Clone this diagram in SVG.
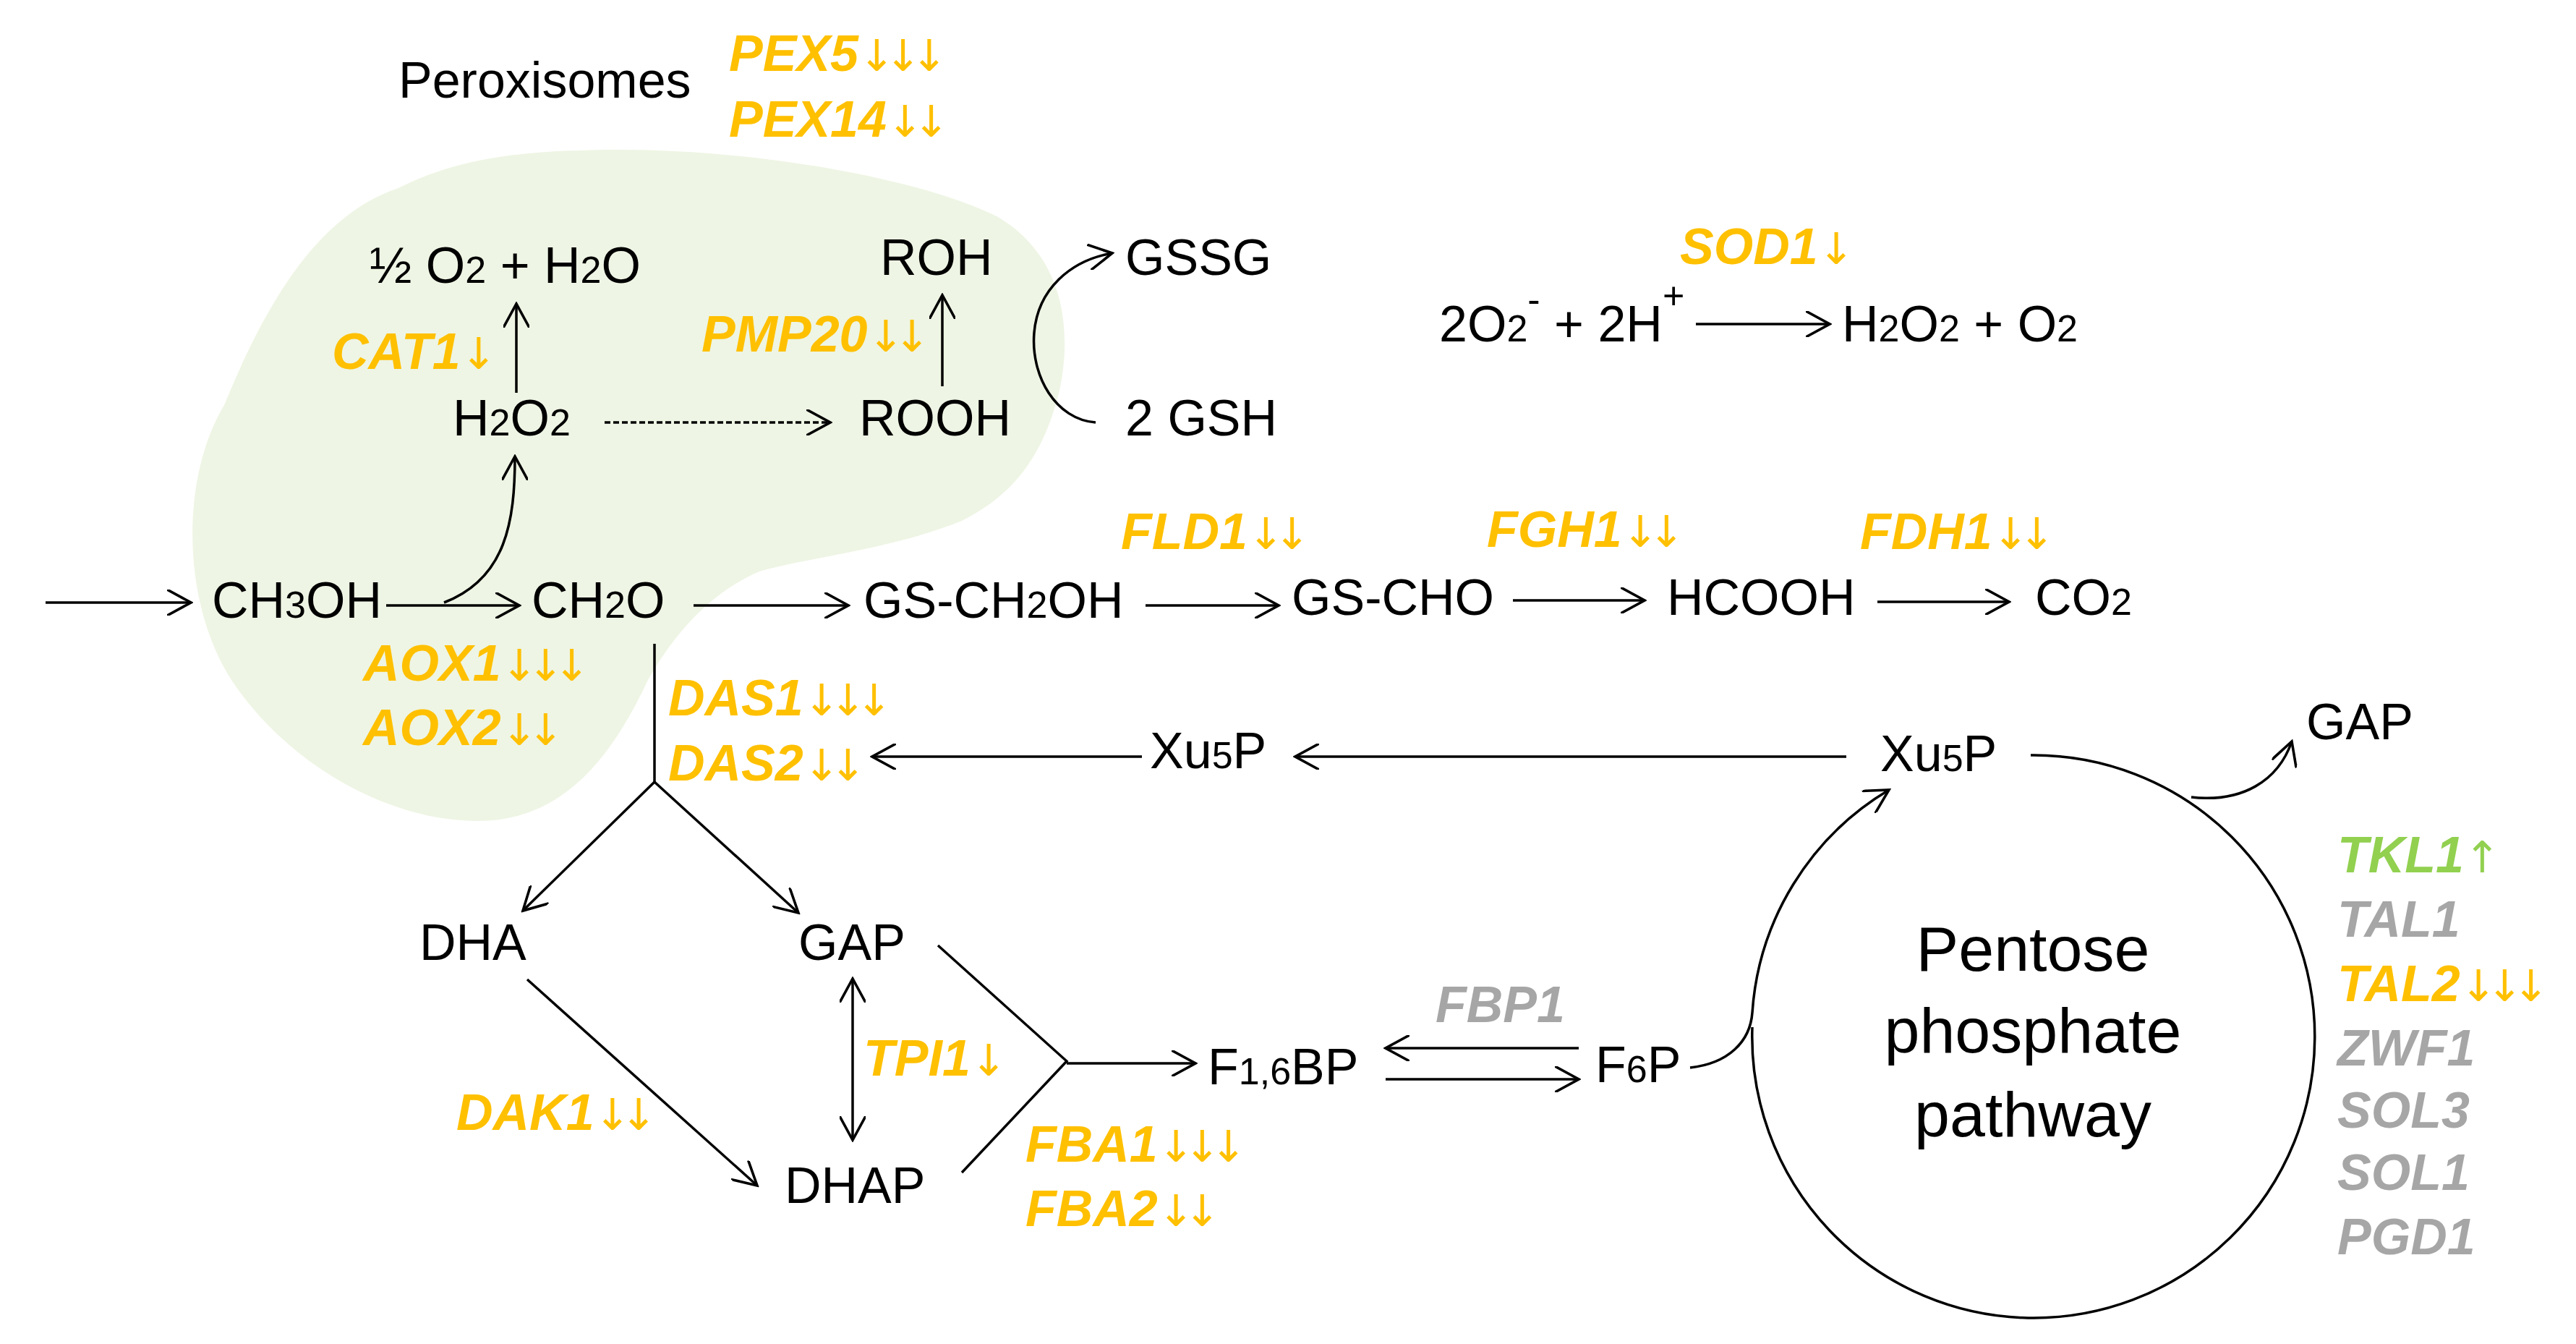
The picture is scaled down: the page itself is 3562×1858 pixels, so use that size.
<svg xmlns="http://www.w3.org/2000/svg" width="3562" height="1858" viewBox="0 0 3562 1858">
<style>
text{font-family:"Liberation Sans",Arial,sans-serif;font-size:70px;fill:#000}
.g{font-weight:bold;font-style:italic;fill:#FFC000}
.gr{font-weight:bold;font-style:italic;fill:#A6A6A6}
.gn{font-weight:bold;font-style:italic;fill:#92D050}
.s{font-size:52px}
.a{font-family:"DejaVu Sans",sans-serif;font-weight:normal;font-style:normal;font-size:60px;letter-spacing:-14px}
.c{fill:none;stroke:#000;stroke-width:3.5}
.big{font-size:88px}
</style>
<defs>
<marker id="h2" viewBox="0 0 12 12" refX="11" refY="6" markerWidth="36" markerHeight="36" markerUnits="userSpaceOnUse" orient="auto-start-reverse">
<path d="M0,0 L11,6 L0,12" fill="none" stroke="#000" stroke-width="1.2"/>
</marker>
</defs>
<g id="peroxisome-area">
<path d="M804,208 C1000,200 1260,240 1380,300 C1480,360 1480,470 1465,540 C1445,620 1410,680 1330,720 C1230,760 1120,770 1050,790 C980,820 930,880 896,940 C840,1060 770,1135 660,1135 C540,1135 400,1060 320,940 C250,830 250,660 310,560 C360,440 430,300 551,260 C620,225 700,210 804,208 Z" fill="#EEF5E4"/>
</g>
<g id="labels">
<text x="551" y="135">Peroxisomes</text>
<text x="1008" y="98" class="g">PEX5<tspan class="a" fill="#FFC000">↓↓↓</tspan></text>
<text x="1008" y="189" class="g">PEX14<tspan class="a" fill="#FFC000">↓↓</tspan></text>
</g>
<g id="n-o2h2o"><text x="511" y="391">½ O<tspan class="s">2</tspan> + H<tspan class="s">2</tspan>O</text></g>
<g id="n-roh"><text x="1217" y="380">ROH</text></g>
<g id="n-gssg"><text x="1556" y="380">GSSG</text></g>
<g id="g-cat1"><text x="459" y="510" class="g">CAT1<tspan class="a" fill="#FFC000">↓</tspan></text></g>
<g id="g-pmp20"><text x="970" y="486" class="g">PMP20<tspan class="a" fill="#FFC000">↓↓</tspan></text></g>
<g id="n-h2o2"><text x="626" y="602">H<tspan class="s">2</tspan>O<tspan class="s">2</tspan></text></g>
<g id="n-rooh"><text x="1188" y="602">ROOH</text></g>
<g id="n-gsh"><text x="1556" y="602">2 GSH</text></g>
<g id="n-ch3oh"><text x="293" y="854">CH<tspan class="s">3</tspan>OH</text></g>
<g id="n-ch2o"><text x="735" y="854">CH<tspan class="s">2</tspan>O</text></g>
<g id="n-gsch2oh"><text x="1194" y="854">GS-CH<tspan class="s">2</tspan>OH</text></g>
<g id="n-gscho"><text x="1786" y="850">GS-CHO</text></g>
<g id="n-hcooh"><text x="2305" y="850">HCOOH</text></g>
<g id="n-co2"><text x="2814" y="850">CO<tspan class="s">2</tspan></text></g>
<g id="g-fld1"><text x="1550" y="759" class="g">FLD1<tspan class="a" fill="#FFC000">↓↓</tspan></text></g>
<g id="g-fgh1"><text x="2056" y="756" class="g">FGH1<tspan class="a" fill="#FFC000">↓↓</tspan></text></g>
<g id="g-fdh1"><text x="2572" y="759" class="g">FDH1<tspan class="a" fill="#FFC000">↓↓</tspan></text></g>
<g id="g-sod1"><text x="2323" y="365" class="g">SOD1<tspan class="a" fill="#FFC000">↓</tspan></text></g>
<g id="n-superoxide"><text x="1990" y="472">2O<tspan class="s">2</tspan><tspan class="s" dy="-40">-</tspan><tspan dy="40"> + 2H</tspan><tspan class="s" dy="-45">+</tspan></text></g>
<g id="n-h2o2o2"><text x="2547" y="472">H<tspan class="s">2</tspan>O<tspan class="s">2</tspan> + O<tspan class="s">2</tspan></text></g>
<g id="g-aox"><text x="502" y="941" class="g">AOX1<tspan class="a" fill="#FFC000">↓↓↓</tspan></text>
<text x="502" y="1030" class="g">AOX2<tspan class="a" fill="#FFC000">↓↓</tspan></text></g>
<g id="g-das"><text x="924" y="989" class="g">DAS1<tspan class="a" fill="#FFC000">↓↓↓</tspan></text>
<text x="924" y="1079" class="g">DAS2<tspan class="a" fill="#FFC000">↓↓</tspan></text></g>
<g id="n-xu5p-l"><text x="1590" y="1062">Xu<tspan class="s">5</tspan>P</text></g>
<g id="n-xu5p-r"><text x="2600" y="1066">Xu<tspan class="s">5</tspan>P</text></g>
<g id="n-gap-r"><text x="3189" y="1022">GAP</text></g>
<g id="n-dha"><text x="580" y="1327">DHA</text></g>
<g id="n-gap"><text x="1104" y="1327">GAP</text></g>
<g id="n-dhap"><text x="1085" y="1663">DHAP</text></g>
<g id="g-tpi1"><text x="1194" y="1487" class="g">TPI1<tspan class="a" fill="#FFC000">↓</tspan></text></g>
<g id="g-dak1"><text x="631" y="1562" class="g">DAK1<tspan class="a" fill="#FFC000">↓↓</tspan></text></g>
<g id="g-fba"><text x="1418" y="1606" class="g">FBA1<tspan class="a" fill="#FFC000">↓↓↓</tspan></text>
<text x="1418" y="1695" class="g">FBA2<tspan class="a" fill="#FFC000">↓↓</tspan></text></g>
<g id="n-f16bp"><text x="1670" y="1499">F<tspan class="s">1,6</tspan>BP</text></g>
<g id="g-fbp1"><text x="1985" y="1413" class="gr">FBP1</text></g>
<g id="n-f6p"><text x="2206" y="1496">F<tspan class="s">6</tspan>P</text></g>
<g id="n-ppp"><text x="2811" y="1342" class="big" text-anchor="middle">Pentose</text>
<text x="2811" y="1455" class="big" text-anchor="middle">phosphate</text>
<text x="2811" y="1571" class="big" text-anchor="middle">pathway</text></g>
<g id="g-ppp-genes">
<text x="3232" y="1206" class="gn">TKL1<tspan class="a" fill="#92D050">↑</tspan></text>
<text x="3232" y="1295" class="gr">TAL1</text>
<text x="3232" y="1384" class="g">TAL2<tspan class="a" fill="#FFC000">↓↓↓</tspan></text>
<text x="3232" y="1473" class="gr">ZWF1</text>
<text x="3232" y="1559" class="gr">SOL3</text>
<text x="3232" y="1645" class="gr">SOL1</text>
<text x="3232" y="1734" class="gr">PGD1</text>
</g>
<g id="connectors" class="c" marker-end="url(#h2)">
<path class="c" d="M714,543 L714,420"/>
<path class="c" d="M1303,534 L1303,408"/>
<path class="c" d="M836,584 L1148,584" stroke-dasharray="8,4"/>
<path class="c" d="M1515,584 C1460,580 1425,520 1430,460 C1435,400 1480,360 1538,350"/>
<path class="c" d="M63,833 L264,833" stroke="#555"/>
<path class="c" d="M534,837 L718,837"/>
<path class="c" d="M614,833 C700,800 712,720 712,631"/>
<path class="c" d="M959,837 L1173,837"/>
<path class="c" d="M1584,837 L1768,837"/>
<path class="c" d="M2092,830 L2274,830"/>
<path class="c" d="M2596,832 L2778,832"/>
<path class="c" d="M2345,448 L2530,448"/>
<path class="c" d="M1579,1046 L1206,1046"/>
<path class="c" d="M2553,1046 L1791,1046"/>
<path class="c" d="M905,890 L905,1081" marker-end="none"/>
<path class="c" d="M905,1081 L723,1259"/>
<path class="c" d="M905,1081 L1104,1262"/>
<path class="c" d="M729,1354 L1047,1639"/>
<path class="c" d="M1179,1353 L1179,1576" marker-start="url(#h2)"/>
<path class="c" d="M1297,1307 L1475,1467 L1330,1621" marker-end="none"/>
<path class="c" d="M1475,1470 L1653,1470"/>
<path class="c" d="M2183,1449 L1916,1449"/>
<path class="c" d="M1916,1492 L2183,1492"/>
<path class="c" d="M2808,1044 A389,389 0 1 1 2423,1420" marker-end="none"/>
<path class="c" d="M2337,1476 C2390,1470 2420,1440 2423,1400 A389,389 0 0 1 2612,1092"/>
<path class="c" d="M3030,1102 C3100,1110 3150,1080 3169,1025"/>
</g>
</svg>
